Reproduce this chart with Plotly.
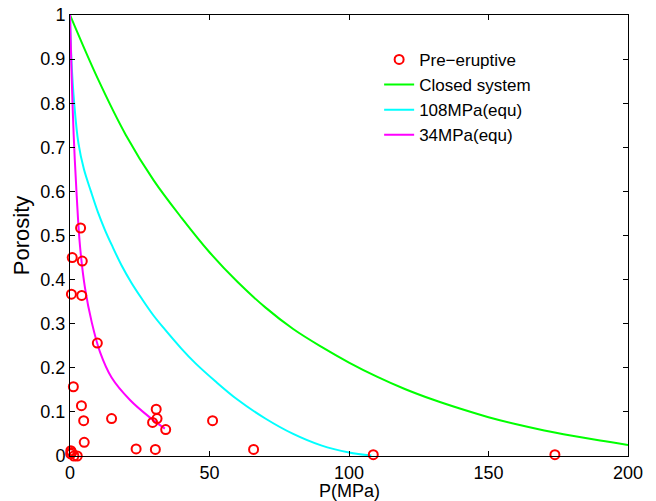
import plotly.graph_objects as go

# Pre-eruptive samples (pressure MPa, porosity)
pre_P = [3.8, 0.8, 4.4, 0.5, 4.2, 9.8, 1.2, 4.1, 4.9, 5.1, 14.9, 23.7, 30.6, 30.9, 31.2, 29.6, 34.3,
         51.1, 65.8, 108.7, 173.8, 0.25, 1.4, 2.6, 0.6, 0.3]
pre_phi = [0.517, 0.450, 0.442, 0.367, 0.364, 0.256, 0.157, 0.114, 0.080, 0.031, 0.085, 0.016, 0.015,
           0.106, 0.085, 0.076, 0.060, 0.080, 0.015, 0.003, 0.003, 0.005, 0.0, 0.0, 0.008, 0.012]

# Closed system curve
closed_P = [0, 10, 20, 30, 40, 50, 60, 70, 80, 90, 100, 110, 120, 130, 140, 150, 160, 170, 180, 190, 200]
closed_phi = [1.0, 0.855, 0.728, 0.625, 0.54, 0.462, 0.395, 0.337, 0.288, 0.248, 0.212, 0.18, 0.152,
              0.128, 0.107, 0.088, 0.072, 0.058, 0.046, 0.035, 0.025]

# 108 MPa equilibrium curve
equ108_P = [0, 0.5, 1.5, 3, 5, 7.5, 10, 12.5, 15, 18.5, 22, 25.7, 30, 34, 40, 45, 52, 60, 70, 80, 90, 100, 108]
equ108_phi = [1.0, 0.9, 0.8, 0.71, 0.65, 0.6, 0.553, 0.513, 0.478, 0.432, 0.393, 0.357, 0.318, 0.287,
              0.243, 0.21, 0.17, 0.128, 0.085, 0.05, 0.024, 0.008, 0.001]

# 34 MPa equilibrium curve
equ34_P = [0, 0.6, 1.3, 2.4, 3.6, 5.4, 7.8, 10.8, 14.9, 21.5, 28.7, 34]
equ34_phi = [1.0, 0.86, 0.73, 0.59, 0.475, 0.38, 0.303, 0.235, 0.178, 0.127, 0.087, 0.062]

x_ticks = [0, 50, 100, 150, 200]
y_ticks = [0, 0.1, 0.2, 0.3, 0.4, 0.5, 0.6, 0.7, 0.8, 0.9, 1]
y_ticklabels = ["0", "0.1", "0.2", "0.3", "0.4", "0.5", "0.6", "0.7", "0.8", "0.9", "1"]

FONT = "Liberation Sans, Arial, Helvetica, sans-serif"

fig = go.Figure()
fig.add_trace(go.Scatter(x=closed_P, y=closed_phi, mode="lines", name="Closed system",
                         line=dict(color="#00FF00", width=2, shape="spline", smoothing=1), legendrank=2))
fig.add_trace(go.Scatter(x=equ108_P, y=equ108_phi, mode="lines", name="108MPa(equ)",
                         line=dict(color="#00FFFF", width=2, shape="spline", smoothing=1), legendrank=3))
fig.add_trace(go.Scatter(x=equ34_P, y=equ34_phi, mode="lines", name="34MPa(equ)",
                         line=dict(color="#FF00FF", width=2, shape="spline", smoothing=1), legendrank=4))
fig.add_trace(go.Scatter(x=pre_P, y=pre_phi, mode="markers", name="Pre\u2212eruptive",
                         marker=dict(symbol="circle-open", color="#FF0000", size=9, line=dict(width=2, color="#FF0000")),
                         cliponaxis=False, legendrank=1))

fig.update_layout(
    width=656, height=501,
    margin=dict(l=70, r=28, t=15, b=45, autoexpand=False),
    paper_bgcolor="white", plot_bgcolor="white",
    font=dict(family=FONT, size=18, color="black"),
    showlegend=True,
    legend=dict(x=0.554, y=0.939, xanchor="left", yanchor="top", bgcolor="rgba(0,0,0,0)",
                borderwidth=0, font=dict(size=17), tracegroupgap=0),
    annotations=[dict(text="P(MPa)", xref="paper", yref="paper", x=0.5, y=-0.0785,
                      xanchor="center", yanchor="middle", showarrow=False, font=dict(size=18))],
)
fig.update_xaxes(range=[0, 200], tickvals=x_ticks, ticks="inside", ticklen=5, tickcolor="black",
                 showline=True, linecolor="black", linewidth=1, mirror="allticks", showgrid=False,
                 zeroline=False, tickfont=dict(size=18), automargin=False)
fig.update_yaxes(range=[0, 1], tickvals=y_ticks, ticktext=y_ticklabels, ticks="inside", ticklen=5,
                 tickcolor="black", showline=True, linecolor="black", linewidth=1, mirror="allticks",
                 showgrid=False, zeroline=False, title=dict(text="Porosity", standoff=4),
                 tickfont=dict(size=18), automargin=False)

fig.write_html("out.html", config={"displayModeBar": False},
               post_script="document.body.style.margin='0';document.body.style.padding='0';")
